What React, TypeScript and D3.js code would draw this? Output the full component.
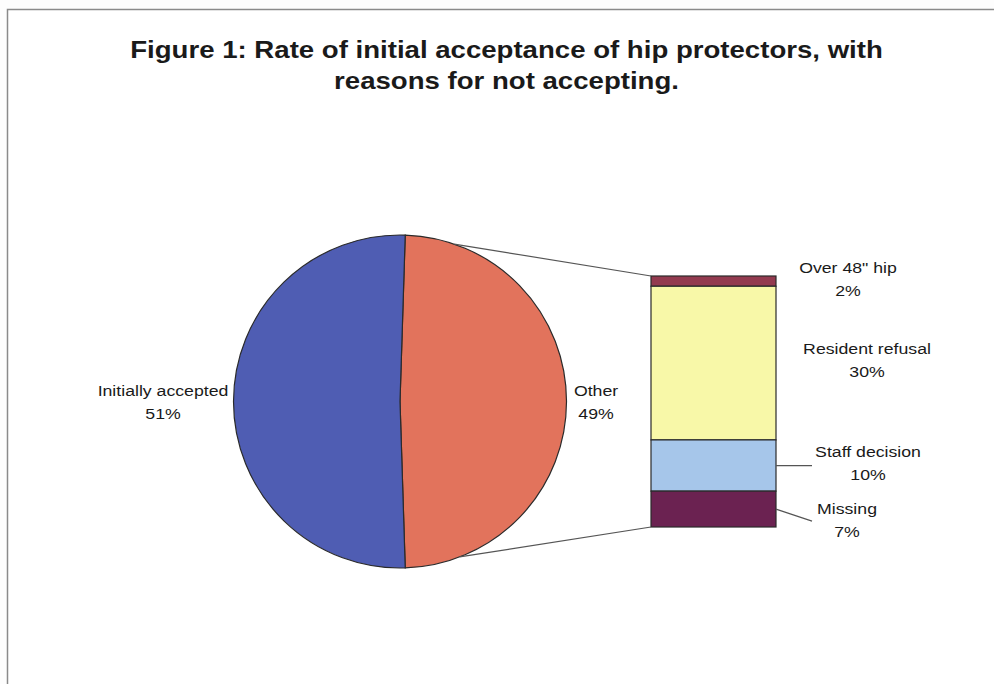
import React, { useEffect, useRef } from "react";
import * as d3 from "d3";

// main pie
const pieLabels = ["Other", "Initially accepted"];
const pieValues = [49, 51];
const pieColors = ["#e2735c", "#4f5db3"];

// breakdown of "Other", top to bottom
const barLabels = ['Over 48" hip', "Resident refusal", "Staff decision", "Missing"];
const barValues = [2, 30, 10, 7];
const barColors = ["#933a4f", "#f8f8a8", "#a6c6ea", "#6b2251"];

const titleLines = [
  "Figure 1: Rate of initial acceptance of hip protectors, with",
  "reasons for not accepting.",
];

const App: React.FC = () => {
  const chartRef = useRef<SVGSVGElement | null>(null);

  useEffect(() => {
    d3.select(chartRef.current).selectAll("*").remove();

    const width = 994;
    const height = 684;
    const font = "'Liberation Sans', Arial, sans-serif";
    // the scanned figure's text is a bit wider than plain Arial
    const stretch = 1.18;

    const svg = d3
      .select(chartRef.current)
      .attr("width", width)
      .attr("height", height);

    svg.append("rect").attr("width", width).attr("height", height).attr("fill", "#fdfdfd");

    // chart frame (runs off the right / bottom edge)
    svg
      .append("rect")
      .attr("x", 7.5)
      .attr("y", 9.5)
      .attr("width", width + 20)
      .attr("height", height + 20)
      .attr("fill", "#ffffff")
      .attr("stroke", "#8a8a8a")
      .attr("stroke-width", 1.5);

    // title
    svg
      .append("g")
      .selectAll("text")
      .data(titleLines)
      .enter()
      .append("text")
      .attr("transform", (_, i) => `translate(506.5,${58 + i * 31}) scale(1.2,1)`)
      .attr("text-anchor", "middle")
      .attr("font-family", font)
      .attr("font-weight", "bold")
      .attr("font-size", 23)
      .attr("fill", "#1a1a1a")
      .text((d) => d);

    // pie
    const cx = 400;
    const cy = 401.5;
    const r = 166.5;
    const total = d3.sum(pieValues);
    const otherSpan = (pieValues[0] / total) * 2 * Math.PI;
    const start = Math.PI / 2 - otherSpan / 2;

    const pie = d3
      .pie<number>()
      .sort(null)
      .startAngle(start)
      .endAngle(start + 2 * Math.PI);
    const arc = d3.arc<d3.PieArcDatum<number>>().innerRadius(0).outerRadius(r);

    const pg = svg.append("g").attr("transform", `translate(${cx},${cy})`);
    pg.selectAll("path")
      .data(pie(pieValues))
      .enter()
      .append("path")
      .attr("d", arc)
      .attr("fill", (_, i) => pieColors[i])
      .attr("stroke", "#2a2a2a")
      .attr("stroke-width", 1.2);

    // bar of breakdown
    const barX = 651;
    const barW = 125;
    const barTop = 276;
    const barBottom = 527;
    const y = d3.scaleLinear().domain([0, d3.sum(barValues)]).range([barTop, barBottom]);
    const cum = barValues.map((_, i) => d3.sum(barValues.slice(0, i)));

    svg
      .append("g")
      .selectAll("rect")
      .data(barValues)
      .enter()
      .append("rect")
      .attr("x", barX)
      .attr("y", (_, i) => y(cum[i]))
      .attr("width", barW)
      .attr("height", (d, i) => y(cum[i] + d) - y(cum[i]))
      .attr("fill", (_, i) => barColors[i])
      .attr("stroke", "#2a2a2a")
      .attr("stroke-width", 1.2);

    // connectors from pie to bar
    const onPie = (deg: number) => {
      const a = (deg * Math.PI) / 180;
      return [cx + r * Math.sin(a), cy - r * Math.cos(a)];
    };
    const [tx, ty] = onPie(19);
    const [bx, by] = onPie(159);
    svg
      .append("g")
      .attr("stroke", "#555")
      .attr("stroke-width", 1.2)
      .selectAll("line")
      .data([
        [tx, ty, barX, barTop],
        [bx, by, barX, barBottom],
      ])
      .enter()
      .append("line")
      .attr("x1", (d) => d[0])
      .attr("y1", (d) => d[1])
      .attr("x2", (d) => d[2])
      .attr("y2", (d) => d[3]);

    // leader lines for the two lower segments
    const mid = (i: number) => y(cum[i] + barValues[i] / 2);
    svg
      .append("g")
      .attr("stroke", "#555")
      .attr("stroke-width", 1.2)
      .selectAll("line")
      .data([
        [barX + barW, mid(2), 812, mid(2)],
        [barX + barW, mid(3), 812, mid(3) + 12],
      ])
      .enter()
      .append("line")
      .attr("x1", (d) => d[0])
      .attr("y1", (d) => d[1])
      .attr("x2", (d) => d[2])
      .attr("y2", (d) => d[3]);

    // labels
    const labelSpots = [
      { text: pieLabels[1], value: `${pieValues[1]}%`, x: 163, y: 396 },
      { text: pieLabels[0], value: `${pieValues[0]}%`, x: 596, y: 396 },
      { text: barLabels[0], value: `${barValues[0]}%`, x: 848, y: 273 },
      { text: barLabels[1], value: `${barValues[1]}%`, x: 867, y: 354 },
      { text: barLabels[2], value: `${barValues[2]}%`, x: 868, y: 457 },
      { text: barLabels[3], value: `${barValues[3]}%`, x: 847, y: 514 },
    ];

    const lg = svg
      .append("g")
      .attr("font-family", font)
      .attr("font-size", 15)
      .attr("fill", "#1a1a1a")
      .attr("text-anchor", "middle");
    labelSpots.forEach((s) => {
      const t = lg
        .append("text")
        .attr("transform", `translate(${s.x},${s.y}) scale(${stretch},1)`);
      t.append("tspan").attr("x", 0).text(s.text);
      t.append("tspan").attr("x", 0).attr("dy", 23.5).text(s.value);
    });
  }, []);

  return (
    <svg
      ref={chartRef}
      style={{ position: "absolute", left: 0, top: 0, display: "block" }}
    ></svg>
  );
};

export default App;
